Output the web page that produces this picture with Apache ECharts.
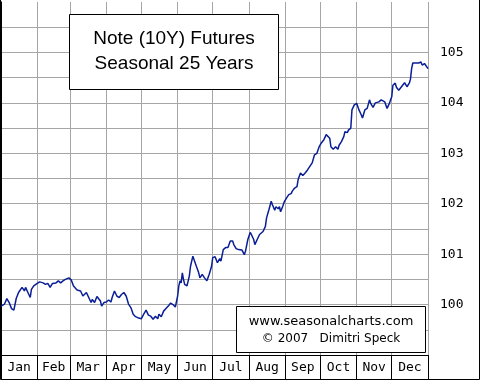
<!DOCTYPE html>
<html>
<head>
<meta charset="utf-8">
<script src="https://cdn.jsdelivr.net/npm/echarts@6/dist/echarts.min.js"></script>
<style>
html,body{margin:0;padding:0;background:#fff;}
#chart{width:480px;height:380px;}
</style>
</head>
<body>
<div id="chart"></div>
<script>
// ---- data ----
const monthNames = ['Jan','Feb','Mar','Apr','May','Jun','Jul','Aug','Sep','Oct','Nov','Dec'];
const monthStarts = [0,31,59,90,120,151,181,212,243,273,304,334,365];
const yLabels = [100,101,102,103,104,105];
const titleLines = ['Note (10Y) Futures','Seasonal 25 Years'];
const creditLines = ['www.seasonalcharts.com','\u00A9 2007   Dimitri Speck'];

const days = [0,1,3,5,7,9,11,13,15,16,18,20,21,23,25,26,28,31,33,36,38,40,42,44,47,49,51,53,55,58,
60,62,65,68,70,71,73,75,77,78,80,82,85,86,88,90,92,94,95,97,99,101,103,105,107,109,111,113,115,117,
118,120,122,124,126,128,130,132,134,135,137,139,141,143,145,147,149,150,151,152,153,154,155,156,157,159,161,162,164,165,
167,169,170,172,174,176,178,180,181,183,185,187,188,190,192,194,196,198,199,201,203,204,206,208,209,211,213,214,216,217,
219,221,222,224,226,227,229,231,232,234,235,237,238,239,241,242,244,246,248,249,251,253,254,256,258,260,262,264,266,268,
270,271,272,274,276,278,279,281,282,284,286,288,289,291,293,294,296,297,299,300,302,304,306,308,309,311,313,315,316,318,
320,323,325,326,328,330,332,334,335,337,338,340,342,343,345,347,349,350,351,352,355,357,359,360,362,363,365];
const values = [99.97,99.96,100.01,100.12,100.04,99.92,99.89,100.12,100.24,100.22,100.34,100.27,100.34,100.24,100.14,100.30,100.37,100.42,100.45,100.43,
100.40,100.42,100.34,100.42,100.43,100.47,100.43,100.47,100.50,100.53,100.49,100.37,100.29,100.27,100.17,100.14,100.24,100.14,100.04,100.10,
100.04,100.16,100.07,99.97,100.04,100.05,100.09,100.05,100.14,100.27,100.17,100.14,100.20,100.24,100.17,100.01,99.94,99.81,99.76,99.74,
99.77,99.72,99.81,99.89,99.79,99.77,99.71,99.77,99.72,99.81,99.76,99.87,99.92,99.97,100.03,100.00,99.95,99.97,100.17,100.37,100.47,100.43,100.63,100.50,100.40,100.37,100.57,100.76,100.96,100.95,
100.76,100.63,100.53,100.60,100.53,100.47,100.60,100.76,100.93,100.95,100.83,100.91,100.86,101.09,101.13,101.13,101.26,101.26,101.19,101.11,101.09,101.06,101.08,100.99,101.06,101.29,101.43,101.39,101.29,101.19,
101.29,101.39,101.36,101.45,101.55,101.72,101.88,102.05,101.98,101.87,101.94,101.90,101.94,101.84,101.96,102.03,102.11,102.18,102.20,102.25,102.31,102.34,102.48,102.61,102.56,102.61,102.67,102.74,102.81,102.97,
103.00,102.97,103.13,103.21,103.27,103.37,103.40,103.30,103.13,103.08,103.13,103.08,103.16,103.23,103.33,103.43,103.41,103.46,103.50,103.86,103.96,103.99,103.86,103.76,103.70,103.86,103.89,104.06,103.99,103.91,
104.00,104.02,104.06,104.09,104.02,103.89,103.99,104.12,104.35,104.39,104.31,104.25,104.31,104.31,104.40,104.32,104.39,104.47,104.68,104.79,104.79,104.79,104.81,104.75,104.78,104.75,104.68];

const seriesData = days.map((d, i) => [d, values[i]]);
const monthMids = monthNames.map((m, i) => (monthStarts[i] + monthStarts[i + 1]) / 2);

const chart = echarts.init(document.getElementById('chart'), null, {renderer: 'canvas'});
chart.setOption({
  animation: false,
  backgroundColor: '#ffffff',
  title: [
    {
      text: titleLines.join('\n'),
      left: 150, top: 14,
      textAlign: 'center',
      padding: [12, 24, 14, 24],
      backgroundColor: '#ffffff',
      borderColor: '#000000', borderWidth: 1,
      textStyle: {fontFamily: 'Liberation Sans', fontSize: 19, fontWeight: 'normal', color: '#000', lineHeight: 25}
    },
    {
      text: '{a|' + creditLines[0] + '}\n{b|' + creditLines[1] + '}',
      left: 319, top: 304,
      textAlign: 'center',
      padding: [9, 12, 8, 12],
      backgroundColor: '#ffffff',
      borderColor: '#000000', borderWidth: 1,
      textStyle: {
        fontWeight: 'normal', fontFamily: 'DejaVu Sans', fontSize: 13, color: '#000',
        rich: {
          a: {fontFamily: 'DejaVu Sans', fontSize: 13, fontWeight: 'normal', color: '#000', lineHeight: 17},
          b: {fontFamily: 'DejaVu Sans', fontSize: 12, fontWeight: 'normal', color: '#000', lineHeight: 17}
        }
      }
    }
  ],
  grid: {left: 1, right: 52, top: 2, bottom: 25, containLabel: false},
  xAxis: {
    type: 'value', min: 0, max: 365,
    axisLine: {show: true, lineStyle: {color: '#000', width: 1}},
    axisTick: {show: true, customValues: monthStarts, length: 24, lineStyle: {color: '#000', width: 1}},
    axisLabel: {
      show: true, customValues: monthMids, margin: 6,
      fontFamily: 'DejaVu Sans Mono', fontSize: 13, color: '#000',
      formatter: v => { const i = monthMids.indexOf(v); return i >= 0 ? monthNames[i] : ''; }
    },
    splitLine: {show: true, lineStyle: {color: '#a6a6a6', width: 1}}
  },
  yAxis: {
    type: 'value', position: 'right', min: 99, max: 106, interval: 0.5,
    axisLine: {show: true, lineStyle: {color: '#000', width: 1}},
    axisTick: {show: false},
    axisLabel: {
      margin: 12, fontFamily: 'DejaVu Sans Mono', fontSize: 13, color: '#000',
      formatter: v => yLabels.indexOf(v) >= 0 ? String(v) : ''
    },
    splitLine: {show: true, showMaxLine: false, lineStyle: {color: '#a6a6a6', width: 1}}
  },
  graphic: [{
    type: 'rect', z: 100, silent: true,
    shape: {x: 0.5, y: -5, width: 479, height: 384.5},
    style: {fill: 'none', stroke: '#000', lineWidth: 1}
  }],
  series: [{
    type: 'line',
    data: seriesData,
    showSymbol: false,
    lineStyle: {color: '#0a1e96', width: 1.5},
    z: 3
  }]
});
</script>
</body>
</html>
